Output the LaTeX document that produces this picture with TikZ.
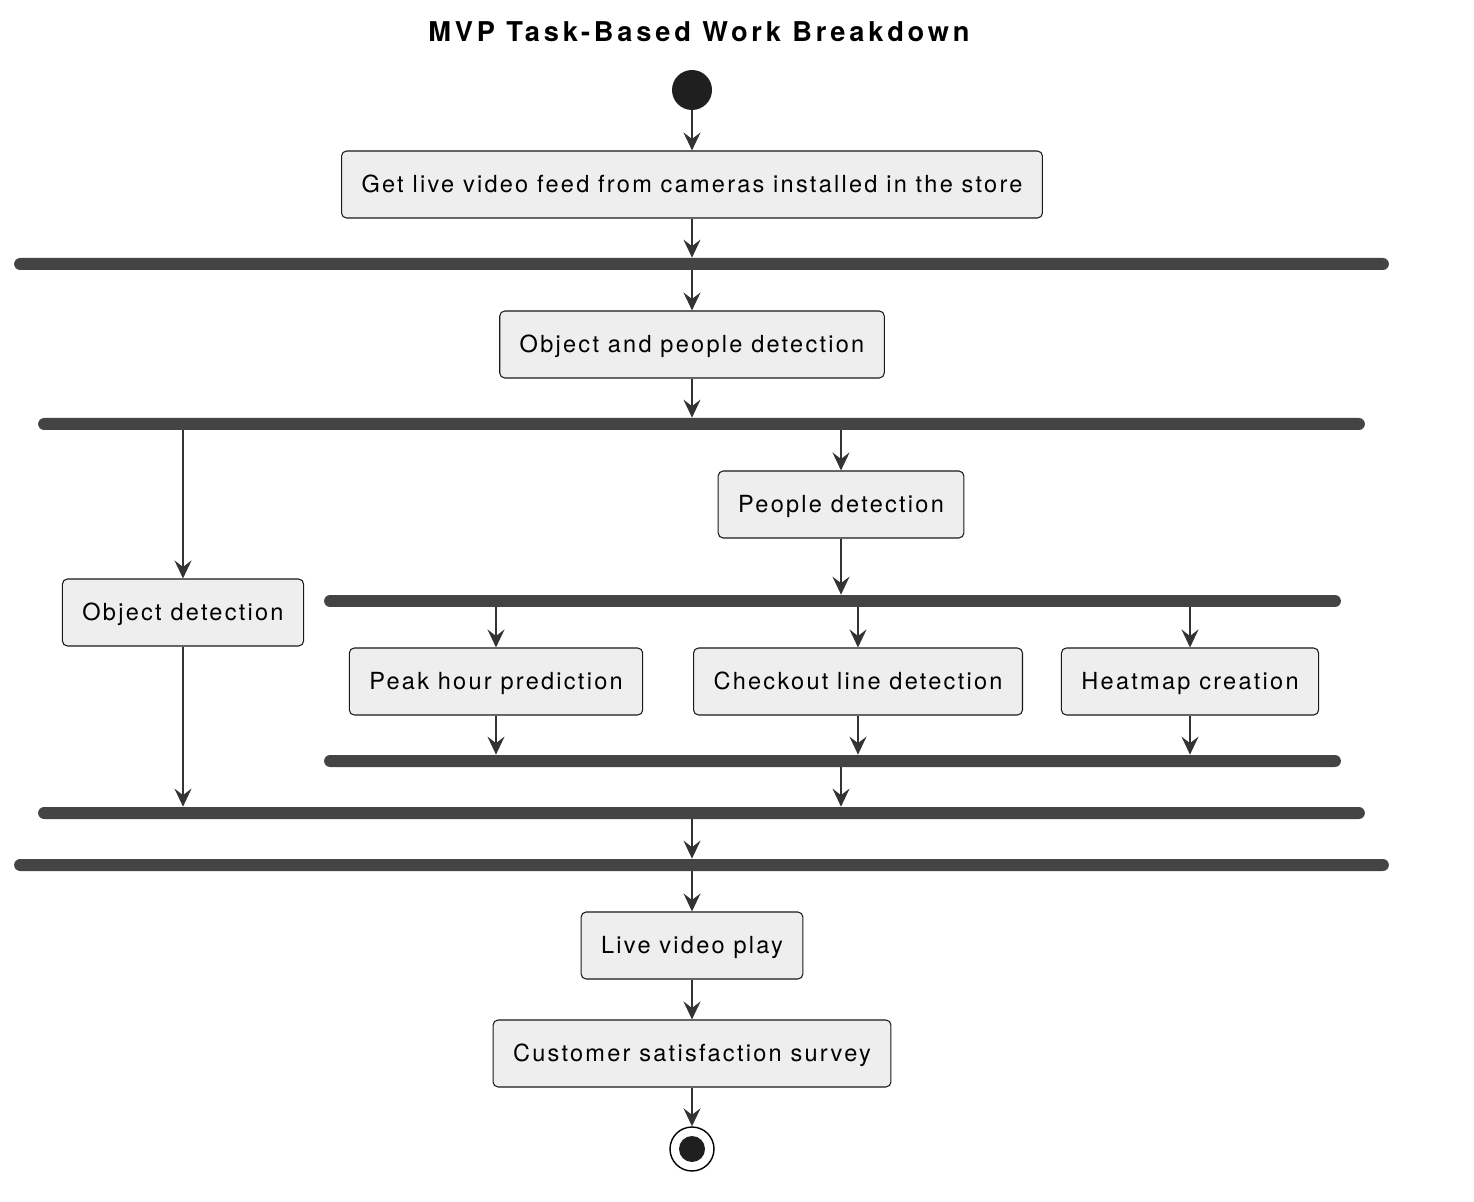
\documentclass[tikz,border=0pt]{standalone}
\usepackage{fontspec}
\setmainfont{TeX Gyre Heros}
\newfontfamily\labelfont[LetterSpace=9.6]{TeX Gyre Heros}
\newfontfamily\titlefont[LetterSpace=14]{TeX Gyre Heros}
\usetikzlibrary{arrows.meta,positioning}
\definecolor{boxfill}{HTML}{EEEEEE}
\definecolor{barcol}{HTML}{444444}
\definecolor{linecol}{HTML}{333333}
\tikzset{
  task/.style={draw=black!90, fill=boxfill, line width=0.6pt, rounded corners=0.1cm,
    inner xsep=0.4cm, minimum height=1.34cm, text height=11.8pt, text depth=2.8pt,
    font=\labelfont\fontsize{13.4}{16}\selectfont},
  bar/.style={fill=barcol, rounded corners=0.12cm, minimum height=0.24cm, inner sep=0pt},
  flow/.style={draw=linecol, line width=1.1pt, -{Stealth[length=0.36cm, width=0.34cm, inset=0.13cm]}}
}
\begin{document}
\begin{tikzpicture}[x=0.02cm, y=-0.02cm]
        \useasboundingbox (0,0) rectangle (1474,1202);
        \node[font=\titlefont\bfseries\fontsize{15.5}{18}\selectfont] (title) at (699,32) {MVP Task-Based Work Breakdown};
        \node[circle, fill=black!88, minimum size=0.8cm, inner sep=0pt] (start) at (692,90) {};
        \node[task] (feed) at (692,184.5) {Get live video feed from cameras installed in the store};
        \node[bar, minimum width=27.5cm] (fork1) at (701.5,264) {};
        \node[task] (detect) at (692,344.5) {Object and people detection};
        \node[bar, minimum width=26.54cm] (fork2) at (701.5,424) {};
        \node[task] (people) at (841,504.5) {People detection};
        \node[task] (object) at (183,612.5) {Object detection};
        \node[bar, minimum width=20.34cm] (fork3) at (832.5,601) {};
        \node[task] (peak) at (496,681.5) {Peak hour prediction};
        \node[task] (checkout) at (858,681.5) {Checkout line detection};
        \node[task] (heatmap) at (1190,681.5) {Heatmap creation};
        \node[bar, minimum width=20.34cm] (join3) at (832.5,761) {};
        \node[bar, minimum width=26.54cm] (join2) at (701.5,813) {};
        \node[bar, minimum width=27.5cm] (join1) at (701.5,865) {};
        \node[task] (play) at (692,945.5) {Live video play};
        \node[task] (survey) at (692,1053.5) {Customer satisfaction survey};
        \node[circle, draw=black, line width=0.8pt, fill=white, minimum size=0.88cm, inner sep=0pt] (stop) at (692,1149) {};
        \fill[black!88] (stop) circle (0.26cm);
        % connectors
        \draw[flow] (start) -- (feed);
        \draw[flow] (feed) -- (feed |- fork1.north);
        \draw[flow] (fork1.south -| detect) -- (detect);
        \draw[flow] (detect) -- (detect |- fork2.north);
        \draw[flow] (fork2.south -| object) -- (object);
        \draw[flow] (fork2.south -| people) -- (people);
        \draw[flow] (people) -- (people |- fork3.north);
        \draw[flow] (fork3.south -| peak) -- (peak);
        \draw[flow] (fork3.south -| checkout) -- (checkout);
        \draw[flow] (fork3.south -| heatmap) -- (heatmap);
        \draw[flow] (peak) -- (peak |- join3.north);
        \draw[flow] (checkout) -- (checkout |- join3.north);
        \draw[flow] (heatmap) -- (heatmap |- join3.north);
        \draw[flow] (join3.south -| people) -- (people |- join2.north);
        \draw[flow] (object) -- (object |- join2.north);
        \draw[flow] (join2.south -| play) -- (play |- join1.north);
        \draw[flow] (join1.south -| play) -- (play);
        \draw[flow] (play) -- (survey);
        \draw[flow] (survey) -- (stop);
\end{tikzpicture}
\end{document}
